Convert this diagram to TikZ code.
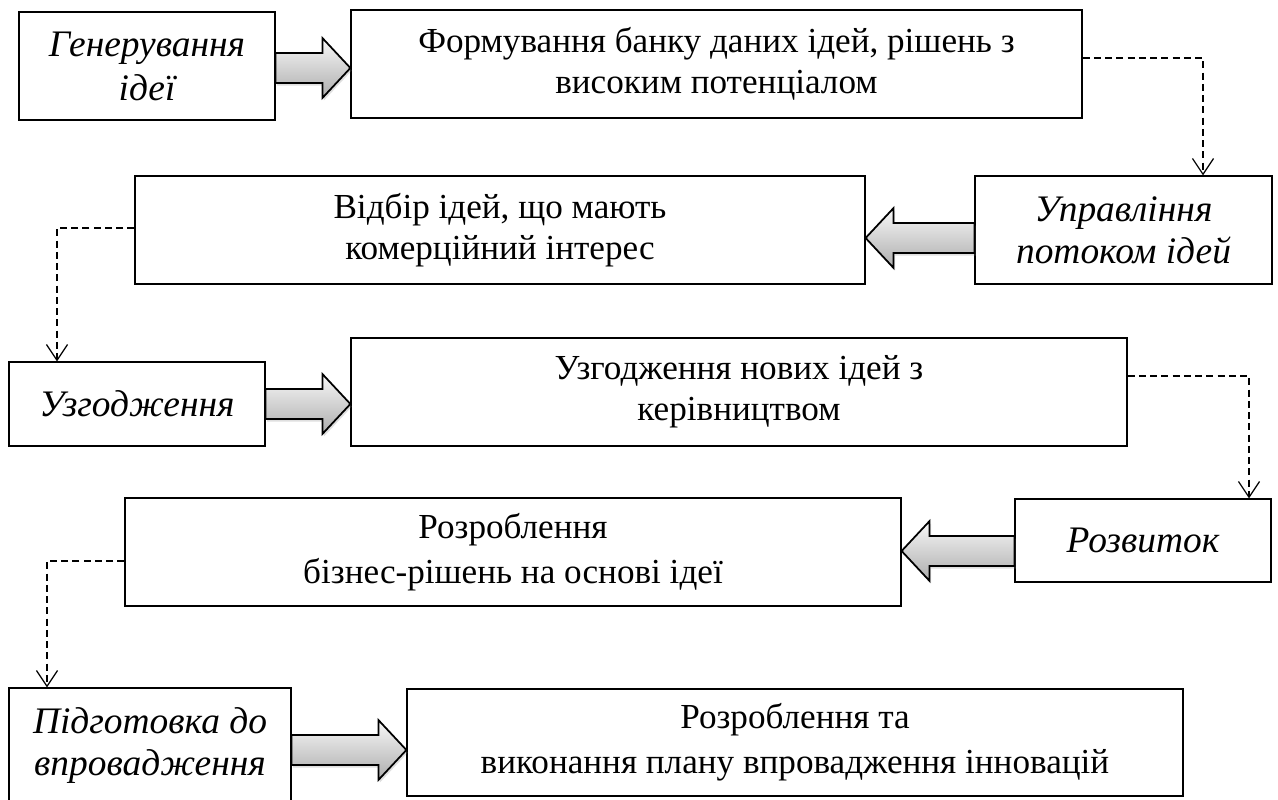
\documentclass[tikz,border=0pt]{standalone}
\usepackage{fontspec}
\setmainfont{Liberation Serif}
\usepackage{tikz}
\usetikzlibrary{arrows.meta, calc, shadows}

% big shaded arrow from a start point to the x of a box side
\newcommand{\bigarrow}[2]{%
  \draw[bigarr] let \p1=(#1), \p2=(#2), \p3=($(\x2,\y1)!0.56cm!(\x1,\y1)$) in
    (\x1,\y1+0.3cm) -- (\x3,\y1+0.3cm) -- (\x3,\y1+0.6cm) -- (\x2,\y1)
    -- (\x3,\y1-0.6cm) -- (\x3,\y1-0.3cm) -- (\x1,\y1-0.3cm) -- cycle;}

\tikzset{
  box/.style={draw, line width=0.7pt, align=center, inner sep=2pt,
    font=\fontsize{20}{23.5}\selectfont},
  stage/.style={box, font=\fontsize{21.3}{24}\selectfont\itshape},
  flow/.style={line width=0.7pt, dash pattern=on 4pt off 2.4pt,
    -{Straight Barb[length=9pt, width=12pt]}},
  bigarr/.style={draw, line width=1pt, top color=gray!5, bottom color=gray!65,
    drop shadow={opacity=0.25, shadow xshift=0.8pt, shadow yshift=-1.5pt}}
}

\begin{document}
\begin{tikzpicture}
        \useasboundingbox (0,0) rectangle (25.56,-16);

        %---------------- Row 1 ----------------%
        \node[stage, minimum width=5.12cm, minimum height=2.16cm] (gen) at (2.94,-1.32) {Генерування\\[1pt]ідеї};
        \node[box, minimum width=14.62cm, minimum height=2.16cm] (bank) at (14.33,-1.28) {Формування банку даних ідей, рішень з\\високим потенціалом};

        %---------------- Row 2 ----------------%
        \node[stage, minimum width=5.94cm, minimum height=2.16cm] (potik) at (22.47,-4.60) {Управління\\потоком ідей};
        \node[box, minimum width=14.60cm, minimum height=2.16cm] (vidbir) at (10.00,-4.60) {Відбір ідей, що мають\\комерційний інтерес};

        %---------------- Row 3 ----------------%
        \node[stage, minimum width=5.12cm, minimum height=1.68cm] (uzg) at (2.74,-8.08) {Узгодження};
        \node[box, minimum width=15.52cm, minimum height=2.16cm] (keriv) at (14.78,-7.84) {Узгодження нових ідей з\\керівництвом};

        %---------------- Row 4 ----------------%
        \node[stage, minimum width=5.12cm, minimum height=1.66cm] (rozv) at (22.86,-10.81) {Розвиток};
        \node[box, minimum width=15.52cm, minimum height=2.16cm] (biznes) at (10.26,-11.04) {Розроблення\\[2pt]бізнес-рішень на основі ідеї};

        %---------------- Row 5 ----------------%
        \node[stage, minimum width=5.64cm, minimum height=2.30cm] (pidg) at (3.00,-14.91) {Підготовка до\\впровадження};
        \node[box, minimum width=15.52cm, minimum height=2.14cm] (plan) at (15.90,-14.85) {Розроблення та\\[2pt]виконання плану впровадження інновацій};

        % великі стрілки
        \bigarrow{[yshift=-0.04cm]gen.east}{bank.west}
        \bigarrow{[yshift=-0.16cm]potik.west}{vidbir.east}
        \bigarrow{uzg.east}{keriv.west}
        \bigarrow{[yshift=-0.21cm]rozv.west}{biznes.east}
        \bigarrow{[yshift=-0.09cm]pidg.east}{plan.west}

        % пунктирні переходи
        \draw[flow] ([yshift=0.12cm]bank.east) -| ([xshift=1.59cm]potik.north);
        \draw[flow] ([yshift=0.04cm]vidbir.west) -| ([xshift=-1.6cm]uzg.north);
        \draw[flow] ([yshift=0.32cm]keriv.east) -| ([xshift=2.12cm]rozv.north);
        \draw[flow] ([yshift=-0.18cm]biznes.west) -| ([xshift=-2.06cm]pidg.north);
    \end{tikzpicture}
\end{document}
